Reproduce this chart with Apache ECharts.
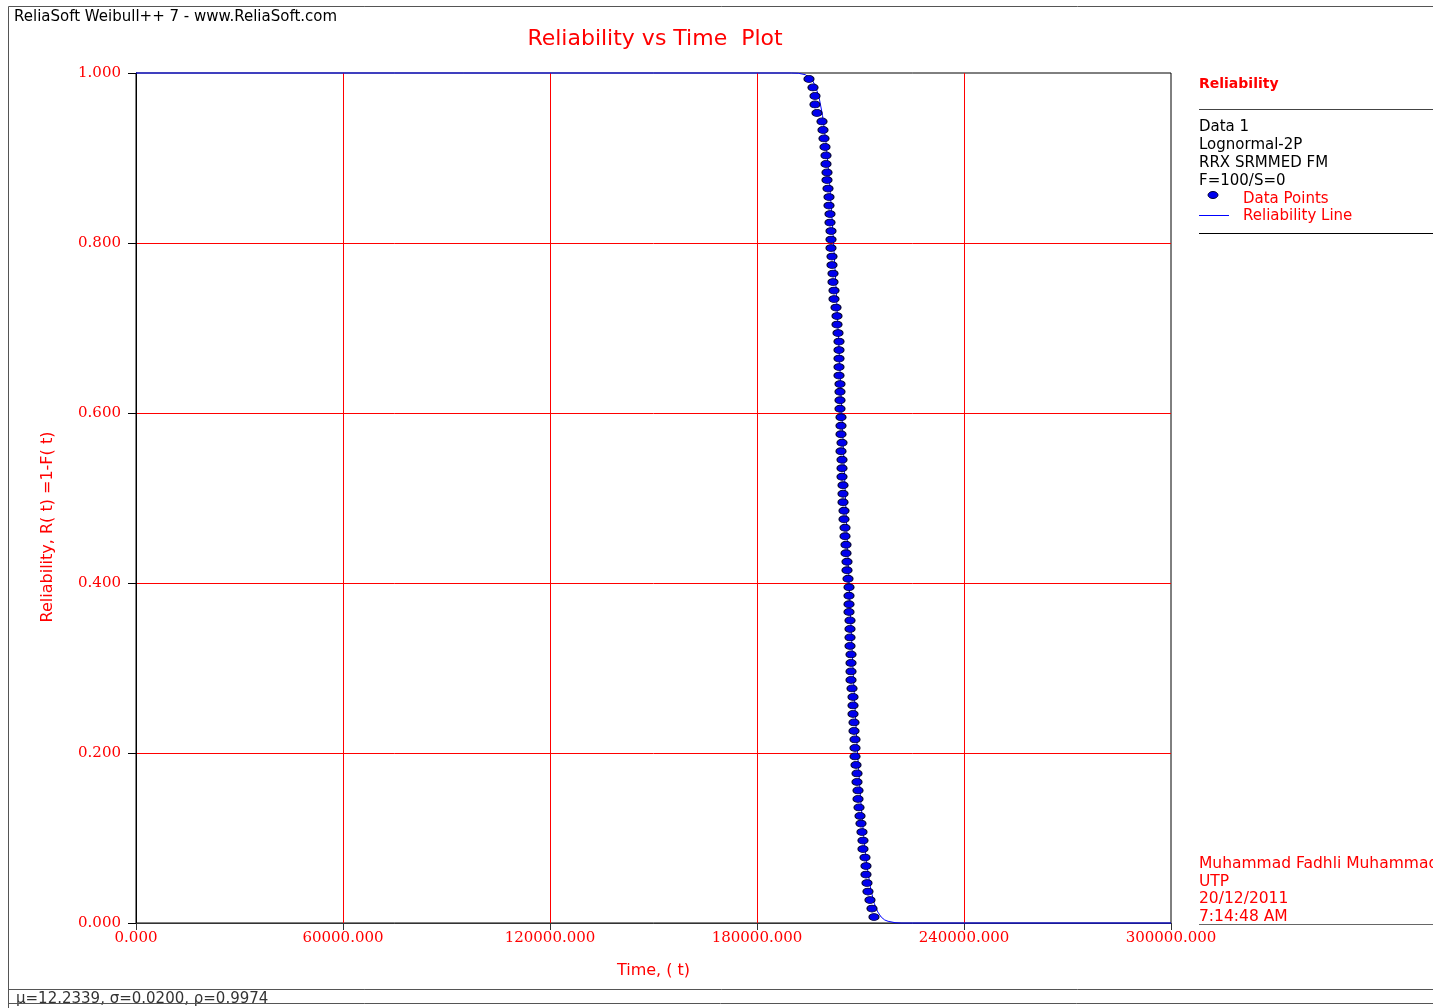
<!DOCTYPE html>
<html>
<head>
<meta charset="utf-8">
<script src="https://cdn.jsdelivr.net/npm/echarts@6/dist/echarts.min.js"></script>
<style>
  html, body { margin: 0; padding: 0; background: #fff; }
  #chart { width: 1433px; height: 1008px; }
</style>
</head>
<body>
<div id="chart"></div>
<script>
// data points (time, reliability)
const pointTime = [
  195070, 196230, 196810, 196810, 197390, 198840, 199130, 199420, 199710, 200000, 200000, 200290, 200290, 200580,
  200870, 200870, 201160, 201160, 201450, 201450, 201450, 201740, 201740, 202030, 202030, 202320, 202320, 202900,
  203190, 203190, 203480, 203770, 203770, 203770, 203770, 203770, 204060, 204060, 204060, 204060, 204350, 204350,
  204350, 204640, 204350, 204640, 204640, 204640, 204930, 204930, 204930, 205220,
  205220, 205510, 205510, 205800, 205800, 206090, 206090, 206380, 206670, 206670, 206670, 206670, 206960, 206960,
  206960, 206960, 207250, 207250, 207250, 207250, 207540, 207830, 207830, 207830, 208120, 208120, 208410, 208410,
  208410, 208700, 208990, 208990, 209280, 209280, 209570, 209860,
  210140, 210430, 210720, 210720, 211300, 211590, 211590, 211880, 212170, 212750, 213330, 213910
];
const pointRel = [
  0.993, 0.983, 0.973, 0.963, 0.953, 0.943, 0.933, 0.923, 0.913, 0.903, 0.893, 0.883,
  0.874, 0.864, 0.854, 0.844, 0.834, 0.824, 0.814, 0.804, 0.794, 0.784, 0.774, 0.764, 0.754,
  0.744, 0.734, 0.724, 0.714, 0.704, 0.694, 0.684, 0.674, 0.664, 0.654, 0.644, 0.634,
  0.625, 0.615, 0.605, 0.595, 0.585, 0.575, 0.565, 0.555, 0.545, 0.535, 0.525, 0.515, 0.505,
  0.495, 0.485, 0.475, 0.465, 0.455, 0.445, 0.435, 0.425, 0.415, 0.405, 0.395, 0.385, 0.375,
  0.366, 0.356, 0.346, 0.336, 0.326, 0.316, 0.306, 0.296, 0.286, 0.276, 0.266, 0.256, 0.246,
  0.236, 0.226, 0.216, 0.206, 0.196, 0.186, 0.176, 0.166, 0.156, 0.146, 0.136, 0.126,
  0.117, 0.107, 0.097, 0.087, 0.077, 0.067, 0.057, 0.047, 0.037, 0.027, 0.017, 0.007
];

// fitted reliability line
const lineTime = [0, 190000, 192000, 194000, 196000, 197000, 198000, 199000, 200000, 201000, 202000, 203000,
  204000, 205000, 206000, 207000, 208000, 209000, 210000, 211000, 212000, 213000, 214000, 215000, 216000,
  217000, 218000, 220000, 222000, 300000];
const lineRel = [1, 1, 0.9997, 0.998, 0.992, 0.984, 0.971, 0.950, 0.918, 0.873, 0.814, 0.741,
  0.656, 0.562, 0.466, 0.371, 0.284, 0.209, 0.147, 0.099, 0.064, 0.039, 0.023, 0.013, 0.007,
  0.0036, 0.002, 0.0004, 0, 0];

const xTicks = { min: 0, max: 300000, step: 60000 };
const yTicks = { min: 0, max: 1, step: 0.2 };

const legendInfo = ['Data 1', 'Lognormal-2P', 'RRX SRMMED FM', 'F=100/S=0'];
const userInfo = ['Muhammad Fadhli Muhammad', 'UTP', '20/12/2011', '7:14:48 AM'];

const red = '#ff0000';
const sans = 'DejaVu Sans';
const serif = 'DejaVu Serif';

const chart = echarts.init(document.getElementById('chart'));

const graphics = [
  { type: 'rect', shape: { x: 8.5, y: 6.5, width: 1440, height: 983 },
    style: { fill: null, stroke: '#555', lineWidth: 1 }, silent: true },
  { type: 'line', shape: { x1: 8, y1: 1003.5, x2: 1433, y2: 1003.5 },
    style: { stroke: '#555', lineWidth: 1 }, z: 10 },
  { type: 'line', shape: { x1: 8.5, y1: 989, x2: 8.5, y2: 1008 },
    style: { stroke: '#555', lineWidth: 1 } },
  { type: 'text', left: 14, top: 10,
    style: { text: 'ReliaSoft Weibull++ 7 - www.ReliaSoft.com', fill: '#000', font: '15px "DejaVu Sans"' } },
  { type: 'text', x: 655, y: 39,
    style: { text: 'Reliability vs Time  Plot', fill: red, font: '22px "DejaVu Sans"',
      textAlign: 'center', textVerticalAlign: 'middle' } },
  { type: 'text', x: 48, y: 527, rotation: Math.PI / 2,
    style: { text: 'Reliability, R( t) =1-F( t)', fill: red, font: '16px "DejaVu Sans"',
      textAlign: 'center', textVerticalAlign: 'middle' } },
  { type: 'text', x: 1199, y: 84,
    style: { text: 'Reliability', fill: red, font: 'bold 14px "DejaVu Sans"', textVerticalAlign: 'middle' } },
  { type: 'line', shape: { x1: 1199, y1: 109.5, x2: 1433, y2: 109.5 },
    style: { stroke: '#444', lineWidth: 1 } },
  { type: 'line', shape: { x1: 1199, y1: 233.5, x2: 1433, y2: 233.5 },
    style: { stroke: '#000', lineWidth: 1 } },
  { type: 'ellipse', shape: { cx: 1213, cy: 195, rx: 5, ry: 3.5 },
    style: { fill: '#0000ee', stroke: '#000033', lineWidth: 1 } },
  { type: 'text', x: 1243, y: 199,
    style: { text: 'Data Points', fill: red, font: '15px "DejaVu Sans"', textVerticalAlign: 'middle' } },
  { type: 'line', shape: { x1: 1199, y1: 215.5, x2: 1229, y2: 215.5 },
    style: { stroke: '#0000ff', lineWidth: 1 } },
  { type: 'text', x: 1243, y: 216,
    style: { text: 'Reliability Line', fill: red, font: '15px "DejaVu Sans"', textVerticalAlign: 'middle' } },
  { type: 'line', shape: { x1: 1199, y1: 924.5, x2: 1433, y2: 924.5 },
    style: { stroke: '#666', lineWidth: 1 } },
  { type: 'text', left: 16, top: 992,
    style: { text: 'μ=12.2339, σ=0.0200, ρ=0.9974', fill: '#333', font: '15px "DejaVu Sans"' } }
];
legendInfo.forEach((t, i) => {
  graphics.push({ type: 'text', x: 1199, y: 127 + i * 18,
    style: { text: t, fill: '#000', font: '15px "DejaVu Sans"', textVerticalAlign: 'middle' } });
});
userInfo.forEach((t, i) => {
  graphics.push({ type: 'text', x: 1199, y: 864 + i * 17.5,
    style: { text: t, fill: red, font: '15.5px "DejaVu Sans"', textVerticalAlign: 'middle' } });
});

chart.setOption({
  backgroundColor: '#fff',
  animation: false,
  grid: {
    left: 136, right: 262, top: 73, bottom: 85,
    show: true, borderColor: '#000', borderWidth: 1, backgroundColor: '#fff'
  },
  xAxis: {
    type: 'value',
    min: xTicks.min, max: xTicks.max, interval: xTicks.step,
    name: 'Time, ( t)',
    nameLocation: 'middle',
    nameGap: 40,
    nameTextStyle: { color: red, fontFamily: sans, fontSize: 16 },
    axisLine: { show: true, lineStyle: { color: '#333' } },
    axisTick: { show: true, length: 7, lineStyle: { color: '#333' } },
    axisLabel: {
      color: red, fontFamily: serif, fontSize: 15, margin: 8,
      formatter: v => v.toFixed(3)
    },
    splitLine: { show: true, showMinLine: false, showMaxLine: false,
      lineStyle: { color: red, width: 1, type: 'solid', opacity: 1 } }
  },
  yAxis: {
    type: 'value',
    min: yTicks.min, max: yTicks.max, interval: yTicks.step,
    axisLine: { show: true, lineStyle: { color: '#000' } },
    axisTick: { show: true, length: 8, lineStyle: { color: '#000' } },
    axisLabel: {
      color: red, fontFamily: serif, fontSize: 15, margin: 15,
      formatter: v => v.toFixed(3)
    },
    splitLine: { show: true, showMinLine: false, showMaxLine: false,
      lineStyle: { color: red, width: 1, type: 'solid', opacity: 1 } }
  },
  series: [
    {
      type: 'line',
      data: lineTime.map((t, i) => [t, lineRel[i]]),
      showSymbol: false,
      clip: false,
      lineStyle: { color: '#0000ff', width: 1 },
      z: 3
    },
    {
      type: 'scatter',
      data: pointTime.map((t, i) => [t, pointRel[i]]),
      symbol: 'circle',
      symbolSize: [10, 7],
      itemStyle: { color: '#0000ee', borderColor: '#000033', borderWidth: 1, opacity: 1 },
      z: 4
    }
  ],
  graphic: graphics
});
</script>
</body>
</html>
